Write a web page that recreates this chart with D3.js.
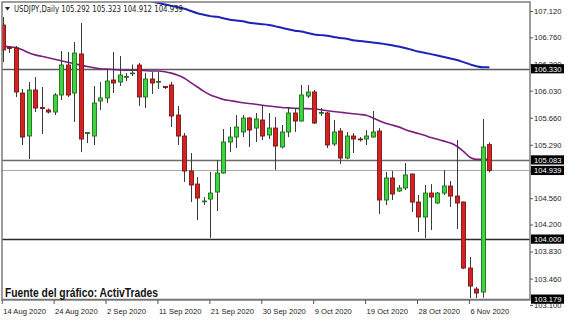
<!DOCTYPE html>
<html><head><meta charset="utf-8">
<script src="https://cdn.jsdelivr.net/npm/d3@7"></script>
<style>body{margin:0;background:#fff}svg{display:block}</style>
</head><body><svg id="c" width="567" height="324"></svg>
<script>
const symbolTitle = "USDJPY,Daily";
const lastQuote = ["105.292", "105.323", "104.912", "104.939"];

const opens = [106.928,106.621,106.614,105.998,105.410,106.039,105.800,105.766,105.738,105.971,
 106.381,105.998,106.532,105.444,105.410,105.889,105.930,106.176,106.149,106.217,
 106.265,106.381,105.944,106.190,106.149,106.087,106.108,105.697,105.410,104.931,
 104.753,104.514,104.548,104.644,104.904,105.328,105.396,105.465,105.656,105.519,
 105.629,105.424,105.519,105.260,105.465,105.725,105.615,105.957,106.012,105.725,
 105.725,105.301,105.478,105.109,105.410,105.369,105.369,105.396,105.478,104.535,
 104.836,104.658,104.699,104.890,104.507,104.302,104.630,104.494,104.630,104.726,
 104.589,104.507,103.604,103.317,103.276,105.292];
const highs = [107.038,106.641,106.641,106.053,106.149,106.217,106.080,105.786,105.998,106.573,
 106.559,106.696,106.956,105.465,106.094,106.149,106.313,106.559,106.504,106.272,
 106.388,106.409,106.272,106.286,106.286,106.094,106.149,105.820,105.451,105.177,
 104.849,104.576,104.917,105.082,105.506,105.533,105.697,105.697,105.670,105.725,
 105.820,105.725,105.670,105.561,105.807,105.793,106.108,106.108,106.039,105.793,
 105.738,105.629,105.519,105.465,105.451,105.396,105.492,105.752,105.519,104.917,
 104.931,104.740,105.041,104.897,104.603,104.740,104.753,104.644,104.945,104.794,
 105.355,104.514,103.755,103.344,105.643,105.323];
const lows = [106.422,106.545,105.944,105.287,105.095,105.738,105.437,105.718,105.697,105.903,
 105.944,105.602,105.191,105.314,105.287,105.766,105.861,105.998,106.094,106.162,
 106.231,105.820,105.793,105.985,106.053,106.053,105.533,105.287,104.781,104.507,
 104.261,104.466,104.014,104.384,104.897,105.191,105.246,105.396,105.260,105.328,
 105.355,105.369,104.945,105.239,105.396,105.465,105.608,105.930,105.574,105.684,
 105.246,105.273,105.027,105.095,105.177,105.335,105.287,105.389,104.343,104.466,
 104.535,104.644,104.671,104.370,104.097,104.014,104.124,104.480,104.603,104.439,
 104.138,103.590,103.194,103.194,103.200,104.912];
const closes = [106.587,106.607,106.012,105.396,106.039,105.793,105.786,105.738,105.971,106.381,
 105.971,106.545,105.369,105.458,105.861,105.930,106.162,106.135,106.244,106.224,
 106.272,105.944,106.190,106.135,106.156,106.073,105.684,105.410,104.931,104.740,
 104.562,104.521,104.630,104.904,105.328,105.396,105.533,105.656,105.492,105.643,
 105.410,105.519,105.273,105.465,105.725,105.615,105.971,106.012,105.588,105.732,
 105.287,105.465,105.109,105.410,105.369,105.365,105.410,105.465,104.535,104.836,
 104.617,104.699,104.877,104.507,104.302,104.630,104.576,104.630,104.726,104.589,
 104.494,103.604,103.358,103.262,105.260,104.939];

const maPurple = [106.64,106.63,106.62,106.59,106.55,106.52,106.50,106.48,106.46,106.44,
 106.42,106.40,106.38,106.36,106.345,106.33,106.325,106.32,106.315,106.31,
 106.31,106.31,106.305,106.30,106.30,106.29,106.27,106.24,106.20,106.14,
 106.08,106.02,105.97,105.94,105.91,105.895,105.88,105.865,105.855,105.845,
 105.83,105.82,105.81,105.80,105.795,105.79,105.785,105.785,105.78,105.77,
 105.755,105.745,105.735,105.725,105.715,105.705,105.695,105.66,105.62,105.585,
 105.56,105.535,105.50,105.47,105.445,105.42,105.39,105.365,105.34,105.315,
 105.27,105.20,105.12,105.09,105.09,105.09];
const maBlue = [null,null,null,null,null,null,null,null,null,null,
 null,null,null,null,null,null,null,null,null,null,
 107.32,107.30,107.28,107.25,107.23,107.21,107.19,107.17,107.15,107.12,
 107.09,107.07,107.05,107.04,107.02,107.00,106.99,106.98,106.96,106.95,
 106.94,106.93,106.91,106.89,106.87,106.85,106.84,106.82,106.80,106.79,
 106.78,106.765,106.75,106.74,106.72,106.71,106.70,106.69,106.68,106.665,
 106.65,106.635,106.615,106.59,106.565,106.55,106.53,106.51,106.49,106.47,
 106.45,106.42,106.39,106.365,106.35,106.35];

const xTickLabels = ["14 Aug 2020","24 Aug 2020","2 Sep 2020","11 Sep 2020","21 Sep 2020",
 "30 Sep 2020","9 Oct 2020","19 Oct 2020","28 Oct 2020","6 Nov 2020"];
const xTickEvery = 8;
const yTickLabels = ["107.120","106.760","106.390","106.030","105.660","105.290",
 "104.930","104.560","104.200","103.830","103.460","103.100"];
const levelValues = [106.330, 105.083, 104.939, 104.000, 103.179];
const levelLabels = ["106.330","105.083","104.939","104.000","103.179"];
const sourceText = "Fuente del gráfico: ActivTrades";

const svg = d3.select("#c");
const P = {l:2, r:530, t:2, b:300};
const x = d3.scaleLinear().domain([0, 75]).range([2.7, 489.4]);
const y = d3.scaleLinear().domain([103.100, 107.120]).range([304.9, 11]);

svg.append("rect").attr("width",567).attr("height",324).attr("fill","#fff");
svg.append("clipPath").attr("id","pc").append("rect")
  .attr("x",P.l).attr("y",P.t).attr("width",P.r-P.l).attr("height",P.b-P.t);

const g = svg.append("g").attr("clip-path","url(#pc)");

// level lines
const levelStyle = [
  {c:"#5a5a5a", w:1.6},{c:"#6a6a6a", w:1.6},{c:"#a8a8a8", w:1},{c:"#2a2a2a", w:1.3},{c:"#6a6a6a", w:1.5}];
levelValues.forEach((v,i)=>{
  g.append("line").attr("x1",P.l).attr("x2",P.r)
   .attr("y1",Math.round(y(v))+0.5).attr("y2",Math.round(y(v))+0.5)
   .attr("stroke",levelStyle[i].c).attr("stroke-width",levelStyle[i].w);
});

// moving averages
const line = d3.line().defined(d=>d!=null).x((d,i)=>x(i)).y(d=>y(d)).curve(d3.curveMonotoneX);
g.append("path").datum(maBlue).attr("d", d3.line().defined(d=>d!=null).x((d,i)=>x(i)).y(d=>y(d)).curve(d3.curveMonotoneX))
  .attr("fill","none").attr("stroke","#1c23b8").attr("stroke-width",2);
g.append("path").datum(maPurple).attr("d", line)
  .attr("fill","none").attr("stroke","#7a1f7e").attr("stroke-width",1.6);

// candles
const idx = d3.range(opens.length);
const cg = g.append("g");
cg.selectAll("line.w").data(idx).join("line")
  .attr("x1",i=>Math.round(x(i))+0.5).attr("x2",i=>Math.round(x(i))+0.5)
  .attr("y1",i=>y(highs[i])).attr("y2",i=>y(lows[i]))
  .attr("stroke","#3a3a3a").attr("stroke-width",1);
cg.selectAll("rect.b").data(idx).join("rect")
  .attr("x",i=>Math.round(x(i))-1.5).attr("width",4)
  .attr("y",i=>y(Math.max(opens[i],closes[i])))
  .attr("height",i=>Math.max(0.8, Math.abs(y(opens[i])-y(closes[i]))))
  .attr("fill",i=>closes[i]>=opens[i]?"#3ed43e":"#d42222")
  .attr("stroke",i=>closes[i]>=opens[i]?"#1f6e1f":"#7a1414")
  .attr("stroke-width",0.9);

// frame
svg.append("rect").attr("x",P.l).attr("y",P.t).attr("width",P.r-P.l).attr("height",P.b-P.t)
  .attr("fill","none").attr("stroke","#7c7c7c").attr("stroke-width",1.5);

// right axis
const ra = svg.append("g").attr("transform",`translate(${P.r},0)`)
  .call(d3.axisRight(y).tickValues(yTickLabels.map(Number)).tickFormat((d,i)=>yTickLabels[i]).tickSize(3).tickPadding(1));
ra.select(".domain").remove();
ra.selectAll("line").attr("stroke","#555");
ra.selectAll("text").attr("font-family","Liberation Sans, Arial, sans-serif").attr("font-size","7.6px").attr("fill","#222");

// x axis
const xa = svg.append("g").attr("transform",`translate(0,${P.b})`)
  .call(d3.axisBottom(x).tickValues(xTickLabels.map((d,i)=>i*xTickEvery))
    .tickFormat((d,i)=>xTickLabels[i]).tickSize(4).tickPadding(5));
xa.select(".domain").remove();
xa.selectAll("line").attr("stroke","#555").attr("transform","translate(-1,0)");
xa.selectAll("text").attr("text-anchor","start").attr("dx","0px")
  .attr("font-family","Liberation Sans, Arial, sans-serif").attr("font-size","7.6px").attr("fill","#222");

// level label boxes
levelValues.forEach((v,i)=>{
  const yy = y(v);
  svg.append("rect").attr("x",531).attr("y",yy-4.6).attr("width",33).attr("height",9.2).attr("fill","#000");
  svg.append("text").attr("x",534).attr("y",yy+2.8).text(levelLabels[i])
    .attr("font-family","Liberation Sans, Arial, sans-serif").attr("font-size","7.6px").attr("fill","#fff");
});

// title
svg.append("path").attr("d","M5,7 L10,7 L7.5,10.5 Z").attr("fill","#222");
svg.append("text").attr("x",14).attr("y",12)
  .text(symbolTitle + "  " + lastQuote.join(" "))
  .attr("font-family","DejaVu Sans, sans-serif").attr("font-size","8px").attr("fill","#222")
  .attr("textLength",169).attr("lengthAdjust","spacingAndGlyphs");

// source
svg.append("text").attr("x",5).attr("y",297).text(sourceText)
  .attr("font-family","Liberation Sans Narrow, Liberation Sans, Arial, sans-serif")
  .attr("font-weight","bold").attr("font-size","12px").attr("fill","#111")
  .attr("textLength",153).attr("lengthAdjust","spacingAndGlyphs");
</script></body></html>
